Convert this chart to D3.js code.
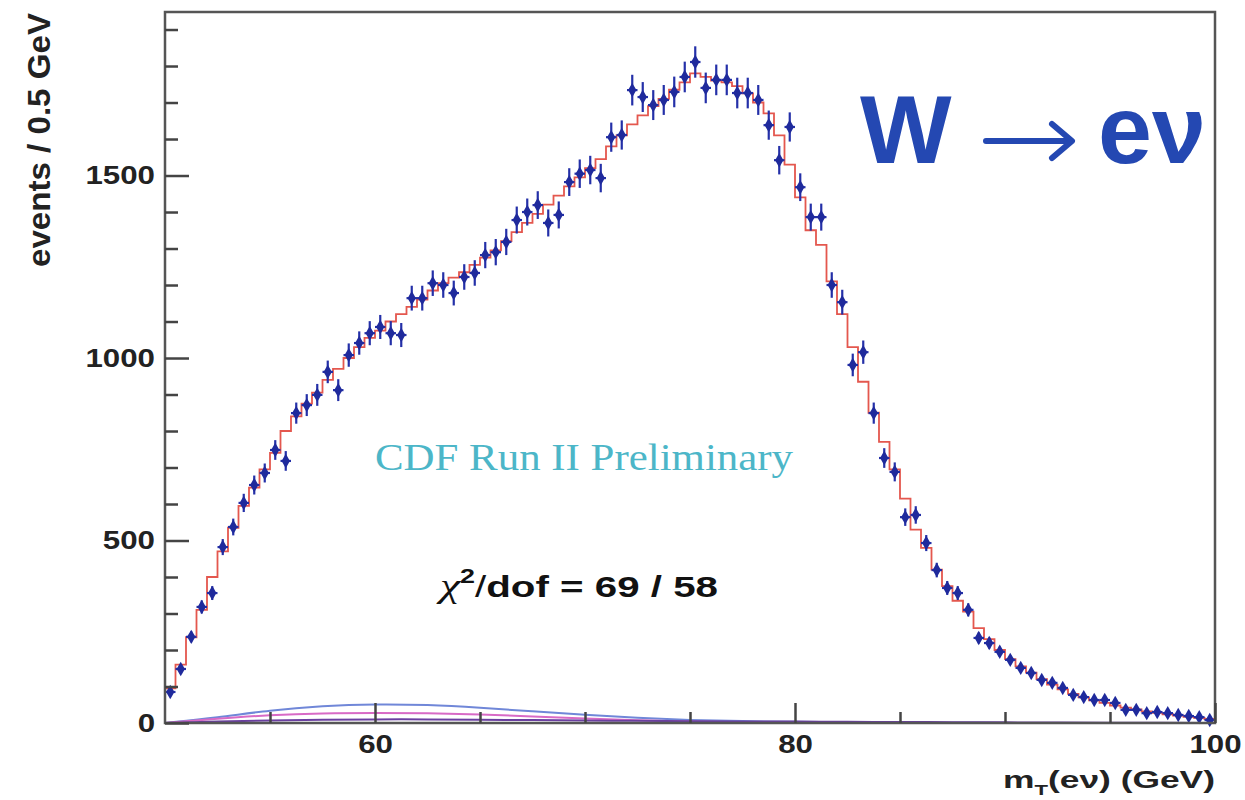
<!DOCTYPE html>
<html>
<head>
<meta charset="utf-8">
<script src="https://cdn.jsdelivr.net/npm/d3@7"></script>
<style>
  body { margin: 0; background: #fff; }
  svg { display: block; }
</style>
</head>
<body>
<div id="chart"></div>
<script>
// 0.5 GeV bins from 50 to 100 GeV
var binLow = 50, binWidth = 0.5;

// data points (events / bin)
var dataCounts = [
  85, 148, 236, 318, 356, 482, 537, 603, 652, 685,
  748, 718, 849, 871, 899, 962, 912, 1008, 1041, 1068,
  1085, 1068, 1063, 1164, 1164, 1205, 1200, 1178, 1222, 1233,
  1282, 1290, 1318, 1378, 1400, 1419, 1370, 1392, 1482, 1505,
  1515, 1493, 1605, 1611, 1734, 1715, 1693, 1707, 1729, 1770,
  1811, 1740, 1762, 1762, 1726, 1726, 1707, 1638, 1542, 1633,
  1468, 1386, 1386, 1200, 1153, 981, 1016, 849, 726, 688,
  564, 570, 493, 419, 370, 356, 310, 233, 219, 195,
  173, 151, 137, 118, 110, 96, 77, 71, 63, 63,
  55, 36, 36, 27, 30, 27, 22, 19, 16, 8
];
var dataErrors = [
  9, 12, 15, 18, 19, 22, 23, 25, 26, 26,
  27, 27, 29, 30, 30, 31, 30, 32, 32, 33,
  33, 33, 33, 34, 34, 35, 35, 34, 35, 35,
  36, 36, 36, 37, 37, 38, 37, 37, 38, 39,
  39, 39, 40, 40, 42, 41, 41, 41, 42, 42,
  43, 42, 42, 42, 42, 42, 41, 40, 39, 40,
  38, 37, 37, 35, 34, 31, 32, 29, 27, 26,
  24, 24, 22, 20, 19, 19, 18, 15, 15, 14,
  13, 12, 12, 11, 10, 10, 9, 8, 8, 8,
  7, 6, 6, 5, 5, 5, 5, 4, 4, 3
];

// simulated template (red histogram)
var templateCounts = [
  95, 160, 235, 310, 400, 470, 535, 595, 645, 695,
  740, 800, 840, 875, 905, 940, 970, 1000, 1030, 1055,
  1075, 1100, 1120, 1140, 1160, 1185, 1205, 1220, 1235, 1255,
  1275, 1295, 1320, 1345, 1370, 1395, 1420, 1445, 1470, 1495,
  1520, 1545, 1580, 1610, 1640, 1665, 1690, 1710, 1735, 1755,
  1780, 1770, 1760, 1755, 1745, 1725, 1700, 1670, 1610, 1530,
  1440, 1350, 1310, 1210, 1120, 1030, 935, 850, 770, 695,
  615, 530, 480, 420, 375, 335, 305, 260, 230, 200,
  175, 155, 138, 120, 105, 92, 80, 70, 62, 55,
  48, 42, 37, 32, 28, 24, 20, 17, 14, 11
];

// backgrounds
var bkgMass   = [50, 52.5, 55, 57.5, 60, 62.5, 65, 67.5, 70, 72.5, 75, 77.5, 80, 82.5, 85, 87.5, 90, 92.5, 95, 97.5, 100];
var bkgBlue   = [0, 15, 35, 47, 52, 50, 42, 32, 22, 14, 8, 5, 3, 2, 1, 1, 0, 0, 0, 0, 0];
var bkgPink   = [0, 12, 22, 27, 28, 27, 24, 18, 12, 7, 4, 2, 1, 1, 0, 0, 0, 0, 0, 0, 0];
var bkgPurple = [0, 4, 7, 9, 10, 10, 9, 8, 7, 6, 5, 4, 4, 3, 3, 2, 2, 1, 1, 1, 0];

var yTickLabels = [0, 500, 1000, 1500];
var xTickLabels = [60, 80, 100];

var width = 1245, height = 800;
var plot = {left: 165, right: 1215, top: 12, bottom: 723};

var svg = d3.select("#chart").append("svg")
    .attr("width", width)
    .attr("height", height)
    .style("font-family", "'Liberation Sans', Arial, sans-serif");

var x = d3.scaleLinear().domain([50, 100]).range([plot.left, plot.right]);
var y = d3.scaleLinear().domain([0, 1948]).range([plot.bottom, plot.top]);

// stretch text horizontally like the original scan
function stretch(sel, f) {
    sel.each(function() {
        var w = this.getComputedTextLength();
        d3.select(this).attr("textLength", w * f).attr("lengthAdjust", "spacingAndGlyphs");
    });
}

// backgrounds
var bkgLine = d3.line()
    .x(function(d, i) { return x(bkgMass[i]); })
    .y(function(d) { return y(d); })
    .curve(d3.curveBasis);

[[bkgBlue, "#7087d8"], [bkgPink, "#d86ac6"], [bkgPurple, "#6a3fa0"]].forEach(function(b) {
    svg.append("path")
        .attr("d", bkgLine(b[0]))
        .attr("fill", "none")
        .attr("stroke", b[1])
        .attr("stroke-width", 2);
});

// template histogram
var steps = templateCounts.map(function(v, i) { return [binLow + i * binWidth, v]; });
steps.push([100, templateCounts[templateCounts.length - 1]]);

svg.append("path")
    .datum(steps)
    .attr("fill", "none")
    .attr("stroke", "#e4574e")
    .attr("stroke-width", 1.8)
    .attr("d", d3.line()
        .x(function(d) { return x(d[0]); })
        .y(function(d) { return y(d[1]); })
        .curve(d3.curveStepAfter));

// data points with error bars
var pts = svg.append("g").selectAll("g")
    .data(dataCounts)
    .join("g")
    .attr("transform", function(d, i) {
        return "translate(" + x(binLow + (i + 0.5) * binWidth) + "," + y(d) + ")";
    });

pts.append("line")
    .attr("y1", function(d, i) { return y(d - dataErrors[i]) - y(d); })
    .attr("y2", function(d, i) { return y(d + dataErrors[i]) - y(d); })
    .attr("stroke", "#2430a8")
    .attr("stroke-width", 2.2);

pts.append("line")
    .attr("x1", -(x(binWidth / 2 + 50) - x(50)))
    .attr("x2", x(binWidth / 2 + 50) - x(50))
    .attr("stroke", "#2430a8")
    .attr("stroke-width", 2.2);

pts.append("path")
    .attr("d", d3.symbol().type(d3.symbolDiamond).size(60))
    .attr("fill", "#1f2a9c");

// frame
svg.append("rect")
    .attr("x", plot.left)
    .attr("y", plot.top)
    .attr("width", plot.right - plot.left)
    .attr("height", plot.bottom - plot.top)
    .attr("fill", "none")
    .attr("stroke", "#555")
    .attr("stroke-width", 2.5);

// y axis
var yMinor = d3.range(100, 1950, 100).filter(function(v) { return v % 500 !== 0; });
var yMinorAxis = svg.append("g")
    .attr("transform", "translate(" + plot.left + ",0)")
    .call(d3.axisRight(y).tickValues(yMinor).tickSize(13).tickFormat(""));

var yMajorAxis = svg.append("g")
    .attr("transform", "translate(" + plot.left + ",0)")
    .call(d3.axisLeft(y).tickValues(yTickLabels).tickSize(-24).tickPadding(10).tickFormat(d3.format("d")));

// x axis
var xMinor = [55, 65, 70, 75, 85, 90, 95];
var xMinorAxis = svg.append("g")
    .attr("transform", "translate(0," + plot.bottom + ")")
    .call(d3.axisBottom(x).tickValues(xMinor).tickSize(-11).tickFormat(""));

var xMajorAxis = svg.append("g")
    .attr("transform", "translate(0," + plot.bottom + ")")
    .call(d3.axisBottom(x).tickValues(xTickLabels).tickSize(-20).tickPadding(12).tickFormat(d3.format("d")));

[yMinorAxis, yMajorAxis, xMinorAxis, xMajorAxis].forEach(function(a) {
    a.select(".domain").remove();
    a.selectAll(".tick line").attr("stroke", "#444").attr("stroke-width", 2.5);
    a.selectAll(".tick text")
        .attr("fill", "#222")
        .style("font-family", "'Liberation Sans', Arial, sans-serif")
        .style("font-weight", "bold")
        .style("font-size", "25px");
});
stretch(yMajorAxis.selectAll(".tick text"), 1.25);
stretch(xMajorAxis.selectAll(".tick text"), 1.25);

// axis titles
var yTitle = svg.append("text")
    .attr("transform", "translate(50,140) rotate(-90)")
    .attr("text-anchor", "middle")
    .attr("fill", "#222")
    .style("font-weight", "bold")
    .style("font-size", "31px")
    .text("events / 0.5 GeV");
yTitle.attr("textLength", 254).attr("lengthAdjust", "spacingAndGlyphs");

var xTitle = svg.append("text")
    .attr("x", 1003)
    .attr("y", 788)
    .attr("fill", "#222")
    .style("font-weight", "bold")
    .style("font-size", "24px");
xTitle.append("tspan").text("m");
xTitle.append("tspan").attr("dy", 7).style("font-size", "15px").text("T");
xTitle.append("tspan").attr("dy", -7).text("(eν) (GeV)");
xTitle.attr("textLength", 212).attr("lengthAdjust", "spacingAndGlyphs");

// annotations
svg.append("text")
    .attr("x", 375)
    .attr("y", 470)
    .attr("fill", "#4cb6c8")
    .style("font-family", "'Liberation Serif', 'Times New Roman', serif")
    .style("font-size", "37px")
    .attr("textLength", 418)
    .attr("lengthAdjust", "spacingAndGlyphs")
    .text("CDF Run II Preliminary");

var chi = svg.append("text")
    .attr("x", 440)
    .attr("y", 597)
    .attr("fill", "#111")
    .style("font-size", "30px");
chi.append("tspan").style("font-style", "italic").style("font-family", "'Liberation Serif', serif").style("font-size", "34px").text("χ");
chi.append("tspan").attr("dy", -14).style("font-weight", "bold").style("font-size", "20px").text("2");
chi.append("tspan").attr("dy", 14).style("font-weight", "normal").text("/");
chi.append("tspan").style("font-weight", "bold").text("dof = 69 / 58");
chi.attr("textLength", 278).attr("lengthAdjust", "spacingAndGlyphs");

// W -> e nu label
var blue = "#2448b2";
svg.append("text")
    .attr("x", 860).attr("y", 163)
    .attr("fill", blue)
    .style("font-weight", "bold")
    .style("font-size", "97px")
    .text("W");
// long thin arrow
var arrow = svg.append("g")
    .attr("fill", "none")
    .attr("stroke", blue)
    .attr("stroke-width", 6)
    .attr("stroke-linecap", "round")
    .attr("stroke-linejoin", "round");
arrow.append("line").attr("x1", 986).attr("y1", 141).attr("x2", 1070).attr("y2", 141);
arrow.append("path").attr("d", "M1052,124 L1072,141 L1052,158");
svg.append("text")
    .attr("x", 1098).attr("y", 163)
    .attr("fill", blue)
    .style("font-weight", "bold")
    .style("font-size", "97px")
    .text("eν");
</script>
</body>
</html>
